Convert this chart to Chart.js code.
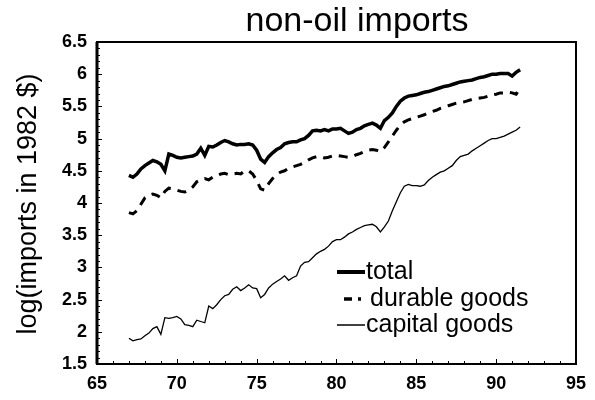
<!DOCTYPE html>
<html>
<head>
<meta charset="utf-8">
<script src="https://cdn.jsdelivr.net/npm/chart.js@4/dist/chart.umd.min.js"></script>
<style>
  html, body { margin: 0; padding: 0; background: #fff; }
  #wrap { width: 595px; height: 400px; }
</style>
</head>
<body>
<div id="wrap"><canvas id="myChart" width="595" height="400"></canvas></div>
<script>
// quarterly data, 1967q1 .. 1991q3
const startYear = 67;

const total = [
  4.43, 4.40, 4.45, 4.53, 4.58, 4.62, 4.66, 4.64, 4.60, 4.50, 4.76, 4.74,
  4.71, 4.70, 4.71, 4.72, 4.73, 4.76, 4.85, 4.74, 4.88, 4.87, 4.90, 4.94,
  4.97, 4.95, 4.92, 4.90, 4.91, 4.91, 4.92, 4.90, 4.82, 4.68, 4.63, 4.72,
  4.78, 4.83, 4.86, 4.92, 4.94, 4.95, 4.95, 4.98, 5.00, 5.05, 5.12, 5.13,
  5.12, 5.14, 5.12, 5.15, 5.15, 5.16, 5.12, 5.08, 5.10, 5.14, 5.16, 5.20,
  5.22, 5.24, 5.21, 5.16, 5.28, 5.33, 5.40, 5.50, 5.58, 5.63, 5.66, 5.67,
  5.68, 5.70, 5.72, 5.73, 5.75, 5.77, 5.79, 5.81, 5.82, 5.84, 5.86, 5.88,
  5.89, 5.90, 5.91, 5.93, 5.95, 5.96, 5.98, 6.00, 6.00, 6.01, 6.01, 6.01,
  5.97, 6.03, 6.07
];

const durable = [
  3.85, 3.83, 3.88, 3.98, 4.08, 4.12, 4.14, 4.12, 4.08, 4.18, 4.23, 4.22,
  4.20, 4.18, 4.17, 4.20, 4.25, 4.33, 4.36, 4.38, 4.36, 4.40, 4.42, 4.45,
  4.46, 4.44, 4.45, 4.46, 4.45, 4.50, 4.50, 4.45, 4.35, 4.22, 4.20, 4.30,
  4.38, 4.44, 4.48, 4.50, 4.54, 4.56, 4.58, 4.60, 4.63, 4.67, 4.70, 4.72,
  4.72, 4.70, 4.71, 4.73, 4.74, 4.73, 4.72, 4.71, 4.72, 4.75, 4.77, 4.80,
  4.82, 4.83, 4.82, 4.80, 4.86, 4.95, 5.04, 5.13, 5.21, 5.26, 5.29, 5.31,
  5.33, 5.35, 5.37, 5.40, 5.42, 5.44, 5.47, 5.49, 5.51, 5.53, 5.55, 5.56,
  5.57, 5.59, 5.61, 5.62, 5.63, 5.64, 5.66, 5.68, 5.69, 5.71, 5.71, 5.72,
  5.71, 5.69, 5.78
];

const capital = [
  1.90, 1.86, 1.88, 1.89, 1.94, 1.98, 2.05, 2.08, 1.96, 2.22, 2.21, 2.22,
  2.24, 2.20, 2.11, 2.10, 2.08, 2.18, 2.16, 2.14, 2.40, 2.36, 2.42, 2.50,
  2.56, 2.58, 2.66, 2.70, 2.64, 2.68, 2.73, 2.68, 2.67, 2.53, 2.58, 2.68,
  2.74, 2.78, 2.82, 2.87, 2.80, 2.84, 2.87, 3.02, 3.08, 3.09, 3.15, 3.21,
  3.25, 3.28, 3.33, 3.40, 3.43, 3.43, 3.47, 3.52, 3.55, 3.59, 3.62, 3.65,
  3.66, 3.67, 3.63, 3.55, 3.63, 3.72, 3.88, 4.02, 4.16, 4.26, 4.29, 4.27,
  4.27, 4.26, 4.28, 4.35, 4.40, 4.44, 4.48, 4.50, 4.54, 4.58, 4.66, 4.72,
  4.74, 4.76, 4.81, 4.85, 4.89, 4.93, 4.97, 5.00, 5.00, 5.02, 5.04, 5.07,
  5.10, 5.13, 5.18
];

const seriesNames = ["total", "durable goods", "capital goods"];
const xTicks = [65, 70, 75, 80, 85, 90, 95];
const yTicks = [1.5, 2, 2.5, 3, 3.5, 4, 4.5, 5, 5.5, 6, 6.5];

const years = total.map((_, i) => startYear + i / 4);
const toPoints = arr => arr.map((v, i) => ({ x: years[i], y: v }));

const FONT = '"Liberation Sans", Arial, Helvetica, sans-serif';

// extra drawing: title, axis label, legend, frame, small ticks
const decor = {
  id: 'decor',
  afterDraw(chart) {
    const ctx = chart.ctx;
    const a = chart.chartArea;
    const xs = chart.scales.x;
    const ys = chart.scales.y;
    ctx.save();
    ctx.fillStyle = '#000';
    ctx.strokeStyle = '#000';

    // frame
    ctx.lineWidth = 2;
    ctx.strokeRect(a.left, a.top, a.right - a.left, a.bottom - a.top);
    ctx.lineWidth = 3;
    ctx.beginPath();
    ctx.moveTo(a.left, a.top);
    ctx.lineTo(a.left, a.bottom);
    ctx.stroke();

    // small inward ticks
    ctx.lineWidth = 1;
    ctx.beginPath();
    for (let v = 15; v <= 65; v++) {
      const y = Math.round(ys.getPixelForValue(v / 10)) + 0.5;
      const len = v % 5 === 0 ? 5 : 3;
      ctx.moveTo(a.left, y);
      ctx.lineTo(a.left + len, y);
    }
    for (let v = 65; v <= 95; v++) {
      const x = Math.round(xs.getPixelForValue(v)) + 0.5;
      const len = v % 5 === 0 ? 5 : 3;
      ctx.moveTo(x, a.bottom);
      ctx.lineTo(x, a.bottom - len);
    }
    ctx.stroke();

    // title
    ctx.font = '34px ' + FONT;
    ctx.textAlign = 'center';
    ctx.textBaseline = 'middle';
    ctx.fillText('non-oil imports', 357, 22);

    // y axis label
    ctx.save();
    ctx.translate(29, 204);
    ctx.rotate(-Math.PI / 2);
    ctx.font = '27px ' + FONT;
    ctx.fillText('log(imports in 1982 $)', 0, 0);
    ctx.restore();

    // legend
    ctx.textAlign = 'left';
    ctx.font = '25px ' + FONT;
    const rows = [272, 299, 325];
    ctx.fillText(seriesNames[0], 366, rows[0]);
    ctx.fillText(seriesNames[1], 370, rows[1]);
    ctx.fillText(seriesNames[2], 366, rows[2]);

    ctx.lineWidth = 4;
    ctx.beginPath();
    ctx.moveTo(337, rows[0]);
    ctx.lineTo(365, rows[0]);
    ctx.stroke();

    ctx.lineWidth = 3.5;
    ctx.beginPath();
    ctx.moveTo(344, rows[1]);
    ctx.lineTo(352, rows[1]);
    ctx.moveTo(358, rows[1]);
    ctx.lineTo(361, rows[1]);
    ctx.stroke();

    ctx.lineWidth = 1.5;
    ctx.beginPath();
    ctx.moveTo(337, rows[2]);
    ctx.lineTo(365, rows[2]);
    ctx.stroke();

    ctx.restore();
  }
};

const ctx = document.getElementById('myChart');

new Chart(ctx, {
  type: 'line',
  data: {
    datasets: [
      {
        label: seriesNames[0],
        data: toPoints(total),
        borderColor: '#000',
        borderWidth: 3.5,
        pointRadius: 0,
        tension: 0
      },
      {
        label: seriesNames[1],
        data: toPoints(durable),
        borderColor: '#000',
        borderWidth: 3,
        borderDash: [9, 7],
        pointRadius: 0,
        tension: 0
      },
      {
        label: seriesNames[2],
        data: toPoints(capital),
        borderColor: '#000',
        borderWidth: 1.3,
        pointRadius: 0,
        tension: 0
      }
    ]
  },
  options: {
    responsive: false,
    animation: false,
    layout: { padding: { top: 42, right: 19, left: 0, bottom: 0 } },
    plugins: {
      legend: { display: false },
      title: { display: false },
      tooltip: { enabled: false }
    },
    scales: {
      x: {
        type: 'linear',
        min: 65,
        max: 95,
        afterFit: s => { s.height = 36; },
        afterBuildTicks: s => { s.ticks = xTicks.map(v => ({ value: v })); },
        grid: { display: false, drawTicks: false },
        border: { display: false },
        ticks: {
          color: '#000',
          padding: 9,
          maxRotation: 0,
          font: { family: FONT, size: 18, weight: 'bold' },
          callback: v => String(v)
        }
      },
      y: {
        type: 'linear',
        min: 1.5,
        max: 6.5,
        afterFit: s => { s.width = 97; },
        afterBuildTicks: s => { s.ticks = yTicks.map(v => ({ value: v })); },
        grid: { display: false, drawTicks: false },
        border: { display: false },
        ticks: {
          color: '#000',
          padding: 10,
          font: { family: FONT, size: 18, weight: 'bold' },
          callback: v => String(v)
        }
      }
    }
  },
  plugins: [decor]
});
</script>
</body>
</html>
